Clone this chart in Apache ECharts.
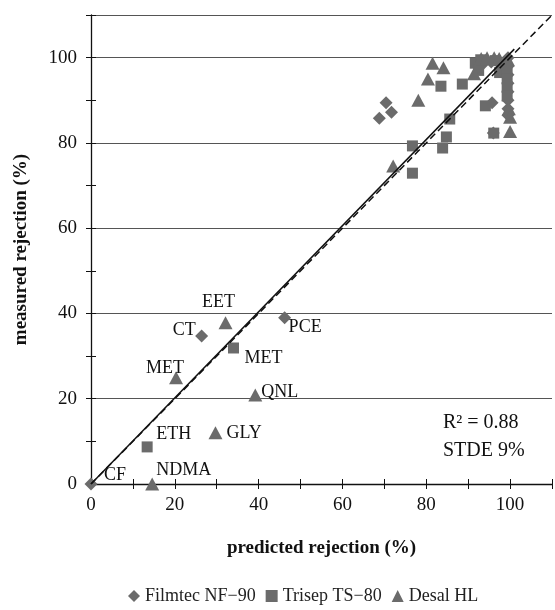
<!DOCTYPE html>
<html>
<head>
<meta charset="utf-8">
<script src="https://cdn.jsdelivr.net/npm/echarts@6/dist/echarts.min.js"></script>
<style>
html,body{margin:0;padding:0;background:#fff;}
#chart{width:555px;height:610px;}
</style>
</head>
<body>
<div id="chart"></div>
<script>
// ---- data ----
const seriesNames = ['Filmtec NF\u221290', 'Trisep TS\u221280', 'Desal HL'];

const filmtecPoints = [
  [0,0],[26.4,34.7],[46.2,39.0],
  [68.8,85.8],[70.4,89.4],[71.7,87.2],
  [95.7,89.4],[96.0,82.3],
  [93.5,98.5],[95.5,99.0],[97.5,98.5],
  [99.5,100],[99.5,98],[99.5,96],[99.5,94],[99.5,92],[99.5,90],[99.5,88],[99.5,86.5]
];
const filmtecLabels = ['CF','CT','PCE'];

const trisepPoints = [
  [13.4,8.7],[34.0,31.9],
  [76.7,79.3],[76.7,72.9],[83.9,78.8],[84.8,81.4],[85.6,85.6],[83.5,93.3],[88.6,93.8],[94.1,88.7],[96.1,82.3],
  [91.7,98.7],[92.5,97.0],[93.0,99.5],[96.5,99.3],[98.5,98.0],[97.5,96.5],[99.3,97],[99.3,95],[99.3,93],[99.3,91]
];
const trisepLabels = ['ETH','MET'];

const desalPoints = [
  [14.6,0],[29.7,12.0],[39.2,20.9],[20.3,24.9],[32.1,37.8],
  [72.1,74.6],[78.1,90.0],[80.4,95.0],[81.5,98.7],[84.1,97.6],[91.4,96.2],
  [93.1,99.8],[94.5,100],[96.2,100],[97.4,99.8],[99.5,99.5],
  [99.7,88],[100,86],[100,82.7]
];
const desalLabels = ['NDMA','GLY','QNL','MET','EET'];

const oneToOneLine = [[0,0],[110,110]];
const fitLine = [[0,0],[101,102]];

const xTickLabels = [0,20,40,60,80,100];
const yTickLabels = [0,20,40,60,80,100];
const statsText = ['R\u00b2 = 0.88', 'STDE 9%'];

// ---- label placement (pixel offsets, style only) ----
const labelStyle = {
  'CF':   {align:'left',  offset:[13,-9]},
  'CT':   {align:'right', offset:[-6,-6]},
  'PCE':  {align:'left',  offset:[4,10]},
  'ETH':  {align:'left',  offset:[9,-13]},
  'MET_T':{align:'left',  offset:[11,10]},
  'NDMA': {align:'left',  offset:[4,-14]},
  'GLY':  {align:'left',  offset:[11,0]},
  'QNL':  {align:'left',  offset:[6,-3]},
  'MET_D':{align:'right', offset:[8,-10]},
  'EET':  {align:'center',offset:[-7,-21]}
};

const FONT = '"Liberation Serif", "DejaVu Serif", serif';
const MARK = '#6b6b6b';

function buildData(points, labels, keySuffix){
  return points.map((p, i) => {
    const name = labels[i];
    if (!name) return {value: p};
    const st = labelStyle[name] || labelStyle[name + keySuffix] || {align:'left', offset:[8,0]};
    return {
      value: p,
      name: name,
      label: {
        show: true,
        formatter: name,
        position: 'inside',
        align: st.align,
        verticalAlign: 'middle',
        offset: st.offset,
        color: '#111',
        fontFamily: FONT,
        fontSize: 18
      }
    };
  });
}

const chart = echarts.init(document.getElementById('chart'), null, {renderer:'canvas'});

const axisCommon = {
  type: 'value', min: 0, max: 110
};

const option = {
  backgroundColor: '#fff',
  animation: false,
  grid: {left: 91, top: 15, width: 466, height: 469},
  legend: {
    bottom: 0, left: 123,
    itemWidth: 12, itemHeight: 12, itemGap: 10,
    textStyle: {fontFamily: FONT, fontSize: 18, color: '#222'},
    data: [
      {name: seriesNames[0], icon: 'diamond'},
      {name: seriesNames[1], icon: 'rect'},
      {name: seriesNames[2], icon: 'triangle'}
    ]
  },
  xAxis: [
    Object.assign({}, axisCommon, {
      interval: 10,
      name: 'predicted rejection (%)',
      nameLocation: 'middle', nameGap: 55,
      nameTextStyle: {fontFamily: FONT, fontSize: 19, fontWeight: 'bold', color: '#111'},
      axisLine: {show: true, onZero: false, lineStyle: {color: '#111', width: 1.3}},
      axisTick: {show: true, inside: false, length: 5, lineStyle: {color: '#111'}},
      axisLabel: {
        margin: 12, fontFamily: FONT, fontSize: 19, color: '#111',
        formatter: v => xTickLabels.indexOf(v) >= 0 ? String(v) : ''
      },
      splitLine: {show: false}
    }),
    Object.assign({}, axisCommon, {
      interval: 10, position: 'bottom',
      axisLine: {show: false, onZero: false},
      axisTick: {show: true, inside: true, length: 5, lineStyle: {color: '#111'}},
      axisLabel: {show: false},
      splitLine: {show: false}
    })
  ],
  yAxis: [
    Object.assign({}, axisCommon, {
      interval: 20,
      name: 'measured rejection (%)',
      nameLocation: 'middle', nameGap: 60, nameRotate: 90,
      nameTextStyle: {fontFamily: FONT, fontSize: 19, fontWeight: 'bold', color: '#111'},
      axisLine: {show: true, onZero: false, lineStyle: {color: '#111', width: 1.3}},
      axisTick: {show: false},
      axisLabel: {
        margin: 14, fontFamily: FONT, fontSize: 19, color: '#111',
        formatter: v => yTickLabels.indexOf(v) >= 0 ? String(v) : ''
      },
      splitLine: {show: true, lineStyle: {color: '#555', width: 1}}
    }),
    Object.assign({}, axisCommon, {
      interval: 10, position: 'left',
      axisLine: {show: false, onZero: false},
      axisTick: {show: true, inside: false, length: 5, lineStyle: {color: '#111'}},
      axisLabel: {show: false},
      splitLine: {show: false}
    }),
    Object.assign({}, axisCommon, {
      interval: 10, position: 'left',
      axisLine: {show: false, onZero: false},
      axisTick: {show: true, inside: true, length: 5, lineStyle: {color: '#111'}},
      axisLabel: {show: false},
      splitLine: {show: false}
    })
  ],
  graphic: [
    {type: 'text', left: 443, top: 413, style: {text: statsText[0], fontFamily: FONT, fontSize: 20, fill: '#111'}},
    {type: 'text', left: 443, top: 441, style: {text: statsText[1], fontFamily: FONT, fontSize: 20, fill: '#111'}}
  ],
  series: [
    {
      name: seriesNames[0], type: 'scatter', symbol: 'diamond', symbolSize: [13,13],
      itemStyle: {color: MARK, opacity: 1},
      data: buildData(filmtecPoints, filmtecLabels, ''),
      z: 3
    },
    {
      name: seriesNames[1], type: 'scatter', symbol: 'rect', symbolSize: [11,11],
      itemStyle: {color: MARK, opacity: 1},
      data: buildData(trisepPoints, trisepLabels, '_T'),
      z: 3
    },
    {
      name: seriesNames[2], type: 'scatter', symbol: 'triangle', symbolSize: [14,13],
      itemStyle: {color: MARK, opacity: 1},
      data: buildData(desalPoints, desalLabels, '_D'),
      z: 3
    },
    {
      type: 'line', data: oneToOneLine, showSymbol: false, symbol: 'none', silent: true,
      lineStyle: {color: '#111', width: 1.5, type: [7,4]}, z: 5
    },
    {
      type: 'line', data: fitLine, showSymbol: false, symbol: 'none', silent: true,
      lineStyle: {color: '#111', width: 1.5}, z: 5
    }
  ]
};
chart.setOption(option);
</script>
</body>
</html>
